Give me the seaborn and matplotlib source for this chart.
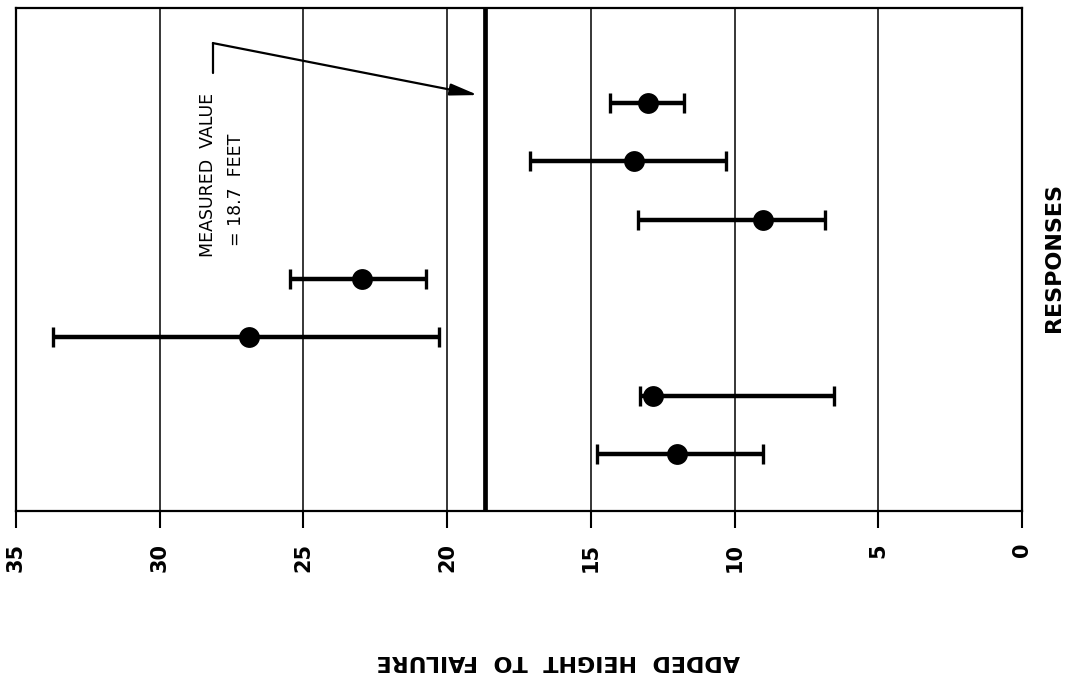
import matplotlib
matplotlib.use("Agg")
import matplotlib.pyplot as plt
import seaborn as sns
import numpy as np
import pandas as pd

# ---- data ----
responses = [1, 2, 3, 4, 5, 6, 7]
estimate = [13.0, 13.5, 9.0, 22.95, 26.9, 12.85, 12.0]
upper = [14.35, 17.1, 13.35, 25.45, 33.7, 13.3, 14.8]
lower = [11.75, 10.3, 6.85, 20.75, 20.3, 6.55, 9.0]
measured_value = 18.7
x_ticks = [35, 30, 25, 20, 15, 10, 5, 0]
x_tick_labels = ["35", "30", "25", "20", "15", "10", "5", "0"]
x_label = "ADDED  HEIGHT  TO  FAILURE"
y_label = "RESPONSES"
note_line1 = "MEASURED  VALUE"
note_line2 = "= 18.7  FEET"

df = pd.DataFrame({"response": responses, "estimate": estimate,
                   "upper": upper, "lower": lower})

sns.set_theme(style="white")
plt.rcParams["font.family"] = ["DejaVu Sans"]

fig = plt.figure(figsize=(10.66, 6.8), dpi=100)
W, H = 1066, 680
ax = fig.add_axes([16 / W, 1 - 511 / H, (1022 - 16) / W, (511 - 8) / H])

# grid lines
for t in x_ticks[1:-1]:
    ax.axvline(t, color="black", lw=1.1, zorder=1)

# measured value line
ax.axvline(measured_value, color="black", lw=3.4, zorder=2)

# error bars
xerr = np.vstack([df["estimate"] - df["lower"], df["upper"] - df["estimate"]])
ax.errorbar(df["estimate"], df["response"], xerr=xerr, fmt="none",
            ecolor="black", elinewidth=3.2, capsize=7.5, capthick=2.4, zorder=3)
sns.scatterplot(data=df, x="estimate", y="response", ax=ax, color="black",
                s=225, edgecolor="black", linewidth=0, zorder=4, legend=False)

ax.set_xlim(35, 0)
ax.set_ylim(7.967, -0.619)
ax.set_xticks(x_ticks)
ax.set_xticklabels(x_tick_labels, rotation=90, fontsize=15, fontweight="bold",
                   va="top")
ax.set_yticks([])
ax.tick_params(axis="x", direction="out", length=12, width=1.5, pad=11,
               bottom=True, colors="black")
ax.set_xlabel("")
ax.set_ylabel("")
for s in ax.spines.values():
    s.set_color("black")
    s.set_linewidth(1.6)

# annotation
ax.plot([28.15, 28.15], [0.49, -0.02], color="black", lw=1.6, zorder=3)
ax.annotate("", xy=(18.93, 0.867), xytext=(28.15, -0.02),
            arrowprops=dict(arrowstyle="-|>,head_length=1.4,head_width=0.3",
                            color="black", lw=1.6, shrinkA=0, shrinkB=0),
            zorder=3)
ax.text(28.31, 2.23, note_line1, rotation=90, ha="center", va="center",
        fontsize=12.5, color="black")
ax.text(27.35, 2.49, note_line2, rotation=90, ha="center", va="center",
        fontsize=12.5, color="black")

# axis labels placed like the scan
fig.text(1054 / W, 1 - 257 / H, y_label, rotation=90, ha="center", va="center",
         fontsize=16, fontweight="bold", color="black")
fig.text(558 / W, 1 - 661 / H, x_label, rotation=180, ha="center", va="center",
         fontsize=16, fontweight="bold", color="black")

fig.savefig("out.png", dpi=100, facecolor="white")
